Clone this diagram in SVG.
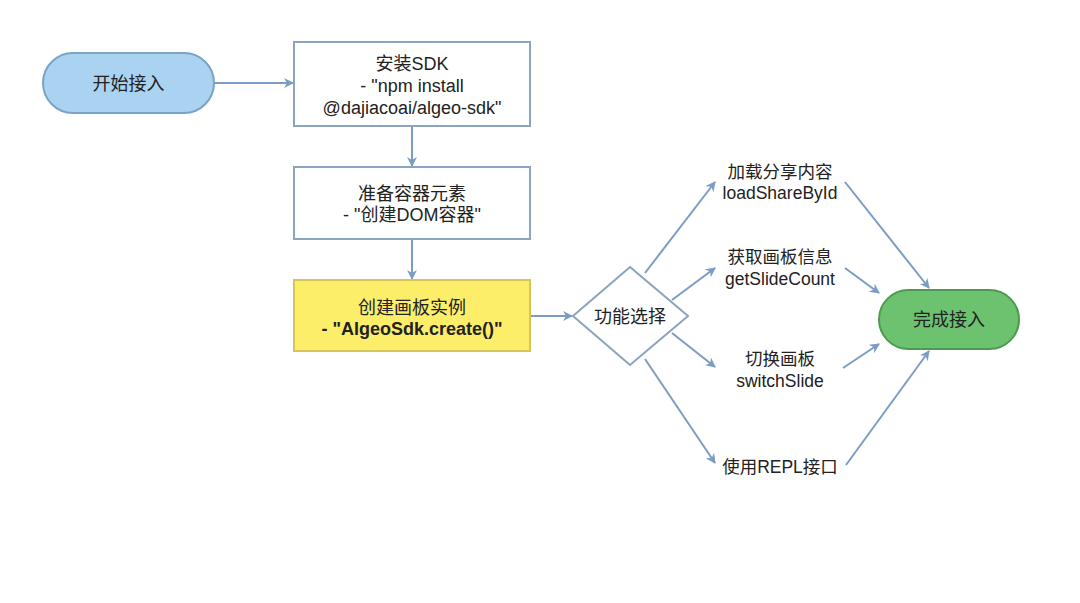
<svg xmlns="http://www.w3.org/2000/svg" width="1080" height="603" viewBox="0 0 1080 603">
<defs>
<marker id="ah" viewBox="0 0 10 10" refX="9" refY="5" markerWidth="10" markerHeight="10" markerUnits="userSpaceOnUse" orient="auto">
<path d="M0,0 L10,5 L0,10 L3,5 Z" fill="#7b9cc4"/>
</marker>
<style>
text{font-family:"Liberation Sans","Noto Sans CJK SC",sans-serif;font-size:18px;fill:#222;text-anchor:middle}
.s{font-size:17.5px}
.b{font-weight:bold}
.e{stroke:#7b9cc4;stroke-width:2;fill:none;marker-end:url(#ah)}
.box{fill:#fff;stroke:#8aa4c0;stroke-width:2}
</style>
</defs>
<rect width="1080" height="603" fill="#fff"/>
<g id="connectors">
<line class="e" x1="214" y1="83" x2="293" y2="83"/>
<line class="e" x1="412" y1="126" x2="412" y2="166"/>
<line class="e" x1="412" y1="239" x2="412" y2="279"/>
<line class="e" x1="530" y1="316" x2="572" y2="316"/>
<line class="e" x1="645" y1="273" x2="715" y2="182"/>
<line class="e" x1="672" y1="300" x2="715" y2="268"/>
<line class="e" x1="672" y1="333" x2="715" y2="367"/>
<line class="e" x1="645" y1="359" x2="715" y2="463"/>
<line class="e" x1="845" y1="182" x2="929" y2="288"/>
<line class="e" x1="845" y1="268" x2="879" y2="293"/>
<line class="e" x1="843" y1="368" x2="879" y2="344"/>
<line class="e" x1="846" y1="465" x2="929" y2="351"/>
</g>
<g id="start">
<rect x="43" y="53" width="171" height="60" rx="30" fill="#a9d3f0" stroke="#7ba3c6" stroke-width="2"/>
<text x="128.5" y="89.5">开始接入</text>
</g>
<g id="install">
<rect class="box" x="294" y="42" width="236" height="84"/>
<text x="412" y="69.5">安装SDK</text>
<text x="412" y="91.5">- "npm install</text>
<text x="412" y="113.5">@dajiacoai/algeo-sdk"</text>
</g>
<g id="prepare">
<rect class="box" x="294" y="167" width="236" height="72"/>
<text x="412" y="199.5">准备容器元素</text>
<text x="412" y="220.5">- "创建DOM容器"</text>
</g>
<g id="create">
<rect x="294" y="280" width="236" height="71" fill="#fdee6a" stroke="#d4c65a" stroke-width="2"/>
<text x="412" y="313.5">创建画板实例</text>
<text x="412" y="334.5" class="b">- "AlgeoSdk.create()"</text>
</g>
<g id="choice">
<polygon points="630,267 688,316 630,365 573,316" fill="#fff" stroke="#8aa4c0" stroke-width="2"/>
<text x="630" y="322.5">功能选择</text>
</g>
<g id="load">
<text class="s" x="780" y="178">加载分享内容</text>
<text class="s" x="780" y="199">loadShareById</text>
</g>
<g id="count">
<text class="s" x="780" y="263">获取画板信息</text>
<text class="s" x="780" y="285">getSlideCount</text>
</g>
<g id="switch">
<text class="s" x="780" y="365">切换画板</text>
<text class="s" x="780" y="387">switchSlide</text>
</g>
<g id="repl">
<text class="s" x="780" y="473">使用REPL接口</text>
</g>
<g id="done">
<rect x="879" y="290" width="140" height="59" rx="29.5" fill="#6cc26f" stroke="#4d9a52" stroke-width="2"/>
<text x="949" y="325.5">完成接入</text>
</g>
</svg>
